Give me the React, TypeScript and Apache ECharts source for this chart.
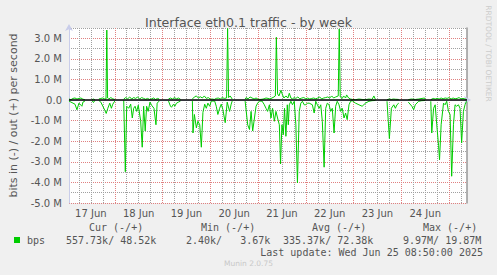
import React, { useEffect, useRef } from "react";
import * as echarts from "echarts";

// x = hours since 17 Jun 00:00, y = Mbit/s ; null = no data
const outTraffic: [number, number | null][] = [
  [1,0.05],[2,0.02],[3,0.08],[4,0.1],[5,0.05],[6,0.08],[7,0.1],[8,0.04],[9,0.02],
  [11,null],
  [12.5,0.02],[13.3,0.05],[14,0.02],
  [15,null],
  [16,0.05],[17,0.08],[18,0.1],[19,0.05],[19.6,0.05],[20,3.4],[20.4,0.1],[21,0.05],[22,0.12],[23,0.06],[24,0.03],
  [26,null],
  [28.5,0.05],[29.5,0.12],[30.5,0.06],[31.5,0.15],[32.5,0.05],[33.5,0.12],[34.5,0.08],[35.5,0.15],[36.5,0.05],[37.5,0.12],[38.5,0.08],[39.5,0.04],[40.5,0.08],[41.5,0.03],[42.5,0.06],[43.5,0.1],[44.5,0.03],[45.5,0.08],[46.3,0.05],
  [48.5,null],
  [51,0.05],[52,0.1],[53,0.05],[54,0.12],[55,0.06],[56,0.1],[57,0.04],
  [60,null],
  [63,0.05],[64,0.15],[65,0.2],[66,0.1],[67,0.16],[68,0.1],[69,0.2],[70,0.08],[71,0.12],[72,0.04],[73,0.05],[74,0.03],[75,0.08],[76,0.1],[77,0.05],[78,0.12],[79,0.08],[80.2,0.1],[80.7,3.48],[81.2,0.12],[82,0.2],[83,0.05],
  [86,null],
  [89.5,0.05],[90,0.12],[91,0.06],[92,0.15],[93,0.1],[94,0.05],[95,0.1],[96,0.04],[97,0.03],[98,0.04],[99,0.06],[100,0.1],[101,0.08],[102,0.05],[103,0.1],[104,0.15],[104.7,0.2],[105.2,3.05],[105.8,0.3],[106.5,0.2],[107.5,0.47],[108.3,0.25],[109,0.1],[110,0.2],[111,0.1],[111.7,0.33],[112.5,0.1],[113.3,0.06],[114.2,0.12],[115,0.08],[116,0.15],[117,0.06],[118,0.1],[119,0.12],[120,0.06],[121,0.1],[122,0.05],[123,0.08],[124,0.1],[125,0.06],[126,0.1],[127,0.15],[128,0.05],[129,0.1],[130,0.12],[131,0.15],[132,0.1],[133,0.2],[134,0.1],[135,0.15],[136.3,0.2],[136.8,3.45],[137.3,0.15],[138.3,0.08],[139,0.2],[140,0.1],[140.5,0.25],[141.5,0.1],[142.5,0.05],[143.5,0.03],[145,0.02],[146.7,0.05],[148.3,0.03],[150,0.02],[151.7,0.05],[153.3,0.03],[154.2,0.2],[155,0.03],
  [158,null],
  [160.8,0.02],[162,0.05],[163,0.03],[164,0.05],[165,0.04],[166.7,0.03],
  [169,null],
  [171.5,0.02],[173,0.05],[175,0.03],[176.7,0.05],[179.7,0.1],[180,0.03],
  [181.5,null],
  [182.8,0.02],[184,0.08],[185,0.05],[186,0.08],[187,0.05],[188,0.1],[189,0.06],[190,0.1],[191,0.08],[192,0.12],[193,0.05],[194,0.1],[195,0.06],[196,0.08],[197,0.12],[198,0.05],[199,0.08],[200,0.05],[200.8,0.03],
];

const inTraffic: [number, number | null][] = [
  [1,-0.05],[2,-0.1],[3,-0.15],[4,-0.2],[5,-0.47],[6,-0.15],[7,-0.25],[7.5,-0.3],[8,-0.1],[9,-0.05],
  [11,null],
  [12.5,-0.02],[13.3,-0.12],[14,-0.02],
  [15,null],
  [16,-0.02],[17,-0.1],[18,-0.3],[19,-0.5],[19.7,-0.65],[20.5,-0.4],[21.5,-0.15],[22.3,-0.4],[23,-0.2],[24,-0.05],
  [26,null],
  [28.5,-0.02],[29.3,-3.48],[30,-0.3],[31,-0.4],[32,-0.2],[32.8,-0.87],[33.5,-0.4],[34.2,-0.3],[35,-0.55],[35.8,-0.25],[37,-1.0],[37.8,-2.29],[38.5,-0.3],[39.3,-1.5],[40,-0.3],[40.8,-0.55],[41.7,-0.1],[42.5,-0.25],[43.7,-0.4],[44.7,-1.2],[45.3,-0.15],[46.3,-0.05],
  [48.5,null],
  [51,-0.05],[52,-0.3],[52.5,-0.35],[53.5,-0.2],[54.2,-0.3],[55,-0.15],[56,-0.1],[57,-0.05],
  [60,null],
  [63,-0.05],[63.3,-1.6],[64,-0.7],[65,-1.35],[65.8,-1.03],[66.7,-1.2],[67.5,-2.29],[68.3,-0.6],[69.2,-0.2],[70,-0.4],[70.8,-0.15],[71.7,-0.3],[72.5,-0.05],[73.3,-0.05],[74.2,-0.05],[75,-0.3],[75.8,-0.7],[76.7,-0.4],[77.5,-0.2],[78.3,-0.45],[79.5,-1.1],[80.5,-0.1],[81.7,-0.55],[82.5,-0.2],[83,-0.05],
  [86,null],
  [89.5,-0.05],[90.8,-1.2],[91.7,-1.43],[92.5,-0.55],[93.3,-1.5],[94.2,-0.87],[95,-0.3],[95.8,-0.15],[96.7,-0.05],[98,-0.05],[99,-0.2],[100,-0.4],[100.8,-0.55],[101.7,-0.23],[102.5,-0.87],[103.3,-0.4],[104.2,-1.03],[105,-0.55],[105.8,-0.87],[106.7,-1.2],[107.3,-3.1],[108,-1.2],[108.7,-1.68],[109.3,-0.4],[110,-1.76],[110.7,-0.23],[111.2,-1.2],[111.7,-0.23],[112.5,-0.06],[113.3,-0.23],[114.2,-0.06],[115,-1.2],[115.8,-4.02],[116.7,-0.55],[117.5,-0.15],[118.3,-0.06],[119.2,-0.23],[120,-0.23],[120.8,-0.15],[121.7,-0.15],[123.3,-0.23],[124.2,-0.63],[125,-0.06],[125.8,-0.23],[126.7,-0.4],[127.5,-0.23],[128.3,-1.03],[129.2,-3.26],[130,-0.4],[130.8,-0.15],[131.7,-0.23],[132.5,-0.55],[133.3,-0.4],[134.2,-1.6],[135,-0.3],[135.8,-0.06],[136.7,-0.23],[137.5,-0.55],[138.3,-0.4],[139.2,-0.87],[140,-0.63],[140.8,-0.95],[141.7,-0.23],[142.5,-0.06],[143.3,-0.03],[145,-0.15],[146.7,-0.23],[148.3,-0.3],[150,-0.15],[151.7,-0.06],[153.3,-0.03],[155,-0.02],
  [158,null],
  [160.8,-0.06],[162,-1.87],[163,-0.4],[164.2,-0.23],[165,-0.4],[165.8,-0.23],[166.7,-0.15],
  [169,null],
  [171.5,-0.1],[173.3,-0.3],[174.2,-0.47],[175,-0.23],[176.7,-0.06],[178.3,-0.03],[180,-0.02],
  [181.5,null],
  [182.8,-0.06],[183.3,-1.6],[184.2,-0.4],[185,-0.23],[185.8,-1.2],[186.7,-2.2],[187.2,-2.9],[188,-1.2],[189.2,-0.15],[190,-0.23],[190.8,-0.06],[191.7,-0.55],[192.5,-0.7],[193.3,-3.7],[194.2,-1.2],[195,-0.23],[195.8,-0.3],[196.7,-0.23],[197.5,-0.4],[198.3,-2.08],[199.2,-0.55],[200,-0.23],[200.8,-0.06],
];

const dayLabels = ["17 Jun", "18 Jun", "19 Jun", "20 Jun", "21 Jun", "22 Jun", "23 Jun", "24 Jun"];
const gridHours = [6, 12, 18, 24, 30, 36, 42, 48, 54, 60, 66, 72, 78, 84, 90, 96, 102, 108, 114, 120, 126, 132, 138, 144, 150, 156, 162, 168, 174, 180, 186, 192, 198];
const xStartHour = 1; // 17 Jun 01:00
const xEndHour = 201; // 25 Jun ~09:00
const yMin = -5;
const yMax = 3.5;

const legendHeaders = ["Cur (-/+)", "Min (-/+)", "Avg (-/+)", "Max (-/+)"];
const legendValues = ["557.73k/ 48.52k", "2.40k/   3.67k", "335.37k/ 72.38k", "9.97M/ 19.87M"];
const lastUpdate = "Last update: Wed Jun 25 08:50:00 2025";

const GREEN = "#00cc00";
const TXT = "#555555";
const MAJOR = "#e08080";
const MINOR = "#a0a0a0";
const AXIS = "#c9cdea";
const nb = (s: string) => s.replace(/ /g, "\u00a0");

export default function App() {
  const ref = useRef<HTMLDivElement>(null);
  useEffect(() => {
    if (!ref.current) return;
    const chart = echarts.init(ref.current, undefined, { renderer: "svg" });
    const toData = (arr: [number, number | null][]) =>
      arr.map(([h, v]) => [h, v === null ? "-" : v]);

    const mono = "DejaVu Sans Mono";
    const graphics: any[] = [];
    const headerX = [89, 201, 312, 423];
    const valueX = [66, 186, 283, 403];
    legendHeaders.forEach((t, i) =>
      graphics.push({ type: "text", x: headerX[i], y: 227, style: { text: nb(t), font: `10px '${mono}'`, fill: TXT, verticalAlign: "middle" } })
    );
    legendValues.forEach((t, i) =>
      graphics.push({ type: "text", x: valueX[i], y: 240, style: { text: nb(t), font: `10px '${mono}'`, fill: TXT, verticalAlign: "middle" } })
    );
    graphics.push({ type: "rect", shape: { x: 14, y: 237, width: 6, height: 6 }, style: { fill: GREEN } });
    graphics.push({ type: "text", x: 27, y: 240, style: { text: "bps", font: `10px '${mono}'`, fill: TXT, verticalAlign: "middle" } });
    graphics.push({ type: "text", x: 483, y: 252, style: { text: nb(lastUpdate), font: `10px '${mono}'`, fill: TXT, align: "right", verticalAlign: "middle" } });
    graphics.push({ type: "text", x: 248.5, y: 263.5, style: { text: "Munin 2.0.75", font: "7.5px 'DejaVu Sans'", fill: "#c8c8c8", align: "center", verticalAlign: "middle" } });
    graphics.push({ type: "text", x: 488.5, y: 53.5, rotation: -Math.PI / 2, style: { text: "RRDTOOL / TOBI OETIKER", font: "7.5px 'DejaVu Sans'", fill: "#cccccc", align: "center", verticalAlign: "middle" } });

    chart.setOption({
      animation: false,
      backgroundColor: "#f0f0f0",
      title: {
        text: "Interface eth0.1 traffic - by week",
        left: "center",
        top: 11,
        textStyle: { fontFamily: "DejaVu Sans", fontSize: 12.6, fontWeight: "normal", color: TXT },
      },
      grid: { left: 67, right: 30, top: 28, bottom: 72, show: true, backgroundColor: "#ffffff", borderWidth: 0 },
      xAxis: {
        type: "value",
        min: xStartHour,
        max: xEndHour,
        splitLine: {
          show: true,
          lineStyle: { color: [MINOR, MINOR, MINOR, MAJOR], type: [1, 1], width: 1 },
        },
        axisTick: { show: false, customValues: gridHours },
        axisLine: { show: true, lineStyle: { color: AXIS, width: 1 }, symbol: ["none", "arrow"], symbolSize: [6, 7], symbolOffset: [0, 4] },
        axisLabel: {
          customValues: dayLabels.map((_, i) => 12 + 24 * i),
          formatter: (v: number) => dayLabels[Math.round((v - 12) / 24)] ?? "",
          color: TXT,
          fontFamily: "DejaVu Sans",
          fontSize: 10,
          margin: 5,
        },
      },
      yAxis: [
        {
          type: "value",
          min: yMin,
          max: yMax,
          interval: 0.5,
          name: "bits in (-) / out (+) per second",
          nameLocation: "middle",
          nameRotate: 90,
          nameGap: 50,
          nameTextStyle: { fontFamily: "DejaVu Sans", fontSize: 11, color: TXT },
          axisTick: { show: false },
          axisLine: { show: true, lineStyle: { color: AXIS, width: 1 }, symbol: ["none", "arrow"], symbolSize: [6, 7], symbolOffset: [0, 4] },
          splitLine: { show: true, lineStyle: { color: [MAJOR, MINOR], type: [1, 1], width: 1 } },
          axisLabel: {
            color: TXT,
            fontFamily: "DejaVu Sans",
            fontSize: 10,
            margin: 7,
            formatter: (v: number) => {
              if (Math.abs(v) < 1e-9) return "0.0";
              if (Math.abs(v - Math.round(v)) > 1e-9) return "";
              return `${v.toFixed(1)} M`;
            },
          },
        },
        {
          type: "value",
          position: "right",
          min: yMin,
          max: yMax,
          interval: 0.5,
          axisLabel: { show: false },
          axisTick: { show: false },
          splitLine: { show: false },
          axisLine: { show: true, lineStyle: { color: "#999999", width: 1.5 } },
        },
      ],
      series: [
        {
          name: "out",
          type: "line",
          data: toData(outTraffic),
          showSymbol: false,
          symbol: "none",
          connectNulls: false,
          lineStyle: { color: GREEN, width: 1 },
          itemStyle: { color: GREEN },
          z: 3,
        },
        {
          name: "in",
          type: "line",
          data: toData(inTraffic),
          showSymbol: false,
          symbol: "none",
          connectNulls: false,
          lineStyle: { color: GREEN, width: 1 },
          itemStyle: { color: GREEN },
          z: 3,
          markLine: {
            silent: true,
            z: 5,
            symbol: "none",
            label: { show: false },
            data: [{ yAxis: 0, lineStyle: { color: "#000000", type: "solid", width: 1.5 } }],
          },
        },
      ],
      graphic: graphics,
    });
    return () => chart.dispose();
  }, []);
  return <div ref={ref} style={{ position: "fixed", left: 0, top: 0, width: 497, height: 275 }} />;
}
